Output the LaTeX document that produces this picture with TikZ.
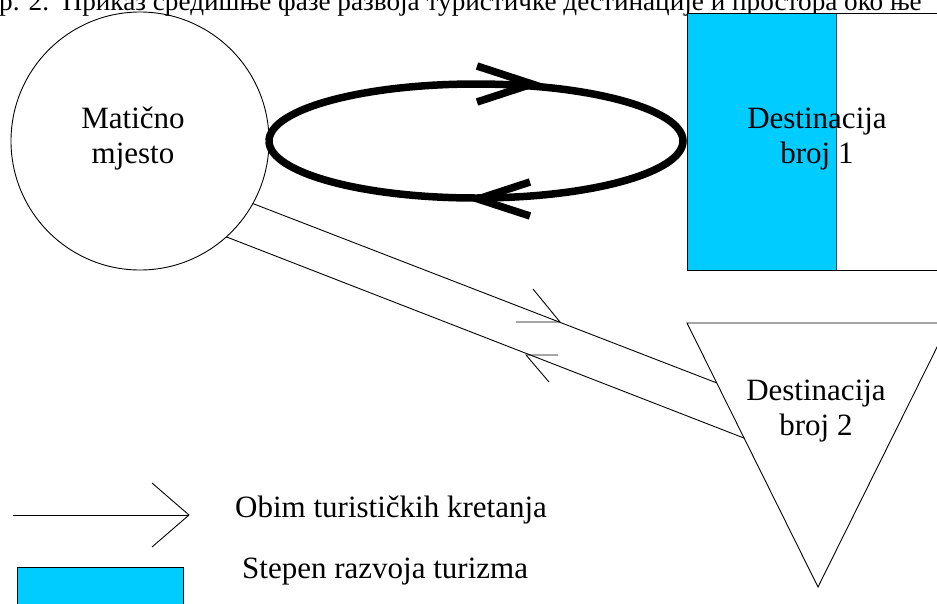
\documentclass[tikz,border=0pt]{standalone}
\usepackage{fontspec}
\setmainfont{Liberation Serif}
\usetikzlibrary{calc}
\definecolor{cyanfill}{HTML}{00CCFF}
\begin{document}
\begin{tikzpicture}[x=1pt,y=-1pt,
  thinline/.style={line width=0.9pt},
  loopline/.style={line width=7.5pt},
  headline/.style={line width=7.5pt, line cap=butt, line join=miter},
  lbl/.style={font=\fontsize{31}{35}\selectfont, align=center, inner sep=0pt},
  legtext/.style={font=\fontsize{31}{35}\selectfont, anchor=base west, inner sep=0pt}]
\useasboundingbox (0,0) rectangle (937,603);
\clip (0,0) rectangle (937,603);

% title (cut off at the top, as in the reference)
\node[anchor=base west, inner sep=0pt, font=\fontsize{27.2}{30}\selectfont] (title) at (-1,10)
  {р. 2.~~Приказ средишње фазе развоја туристичке дестинације и простора око ње};

% home place
\node[draw, circle, thinline, minimum size=258pt, inner sep=0pt, outer sep=0pt] (home) at (140,141) {};
\node[lbl] (homelbl) at (133,139) {Matično\\mjesto};

% destination 1
\node[draw, rectangle, thinline, anchor=north west, minimum width=263pt, minimum height=257pt,
  inner sep=0pt, outer sep=0pt] (d1) at (687,13) {};
\fill[cyanfill, draw=black!70, line width=0.6pt] (d1.north west) rectangle ++(149,257);
\draw[thinline] (d1.north west) rectangle (d1.south east);
\node[lbl] (d1lbl) at (817,139) {Destinacija\\broj 1};

% loop between home and destination 1
\draw[loopline] (home.east) arc[start angle=180, end angle=-180, x radius=207pt, y radius=57pt];
\coordinate (lt) at (532,84);
\draw[headline] (477,66) -- (lt) -- (477,102);
\coordinate (lb) at (478,199);
\draw[headline] (530,182) -- (lb) -- (530,216);

% destination 2
\coordinate (tl) at (687,323);
\coordinate (tr) at (949,323);
\coordinate (tb) at (818,587);
\draw[thinline, line join=miter] (tl) -- (tr) -- (tb) -- cycle;
\node[lbl] (d2lbl) at (816,411) {Destinacija\\broj 2};

% flows between home and destination 2
\coordinate (e1) at ($(tl)!0.227!(tb)$);
\coordinate (e2) at ($(tl)!0.436!(tb)$);
\draw[thinline] (home.-29) -- (e1);
\draw[thinline] (home.-48) -- (e2);
\coordinate (h1) at (560,322);
\draw[thinline] (516,322) -- (h1) -- (533,289);
\coordinate (h2) at (526,355);
\draw[thinline] (558,355) -- (h2) -- (549,382);

% legend
\coordinate (lgA) at (13,515);
\coordinate (lgB) at (189,515);
\draw[thinline] (lgA) -- (lgB);
\draw[thinline] (152,483) -- (lgB) -- (152,547);
\node[legtext] (leg1) at (235,517) {Obim turističkih kretanja};
\draw[thinline, fill=cyanfill] (17,567) rectangle (183,612);
\node[legtext] (leg2) at (242,578) {Stepen razvoja turizma};
\end{tikzpicture}
\end{document}
